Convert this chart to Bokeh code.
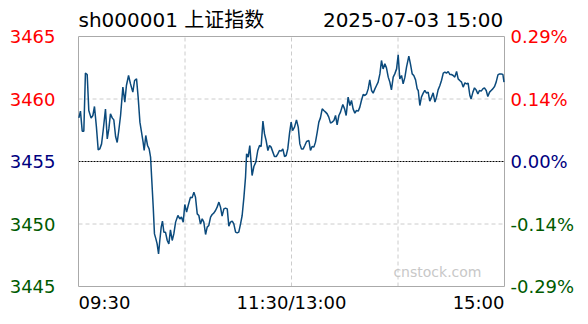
from bokeh.plotting import figure
from bokeh.models import Range1d
from bokeh.core.properties import value
from bokeh.embed import file_html
from bokeh.resources import INLINE

# ---- data ----
title_code = "sh000001 上证指数"
title_time = "2025-07-03  15:00"
prev_close = 3455
y_ticks = [3465, 3460, 3455, 3450, 3445]
pct_labels = ["0.29%", "0.14%", "0.00%", "-0.14%", "-0.29%"]
x_grid = [60, 120, 180]
y_grid = [3450, 3460]
x_tick_pos = [0, 120, 240]
x_tick_labels = ["09:30", "11:30/13:00", "15:00"]
watermark = "cnstock.com"

minutes = [
    0.2, 1.1, 2.1, 3.0, 3.9, 4.9, 5.8, 7.1, 8.1, 9.0, 10.1, 11.1, 12.0, 13.0, 13.9,
    15.2, 16.2, 17.1, 18.0, 19.0, 19.9, 20.9, 21.8, 22.7, 23.7, 25.0, 26.1, 27.0,
    28.2, 29.3, 30.6, 31.6, 32.7, 33.6, 34.6, 35.5, 36.4, 37.0, 37.9, 38.9, 39.8,
    40.6, 41.3, 42.1, 42.8, 43.6, 44.3, 45.1, 45.8, 46.6, 47.3, 48.1, 49.0, 50.0,
    50.9, 51.8, 52.8, 53.7, 54.7, 56.0, 57.1, 58.0, 59.0, 59.9, 60.9, 61.8, 63.1,
    64.0, 65.0, 65.9, 66.9, 67.8, 68.7, 69.7, 70.6, 71.6, 72.5, 73.4, 74.4, 75.3,
    76.2, 77.2, 78.1, 79.1, 80.0, 80.9, 81.9, 82.8, 83.8, 84.7, 85.6, 86.6, 87.5,
    88.5, 89.4, 90.3, 91.3, 92.2, 93.2, 94.1, 94.7, 95.6, 96.5, 97.8, 98.8, 99.9,
    101.0, 102.0, 102.9, 103.9, 104.8, 105.7, 106.7, 107.6, 108.5, 109.5, 110.4,
    111.4, 112.3, 113.2, 114.2, 115.1, 116.1, 117.0, 117.9, 118.9,
    119.8, 120.6, 121.7, 122.8, 123.8, 124.7, 125.6, 126.6, 127.5, 128.5, 129.8,
    130.7, 131.6, 132.6, 133.5, 134.5, 135.4, 136.3, 137.3, 138.2, 139.2, 140.1,
    141.0, 142.0, 142.9, 143.9, 144.8, 145.7, 146.7, 147.6, 148.9, 149.9, 150.8,
    151.9, 152.9, 153.8, 154.7, 155.7, 156.6, 157.6, 158.5, 159.4, 160.4, 161.3,
    162.3, 163.2, 164.1, 165.1, 166.0, 167.0, 167.9, 168.8, 169.8, 170.7, 171.6,
    172.6, 173.5, 174.5, 175.4, 176.3, 177.3, 178.2, 179.2, 180.1, 181.0, 182.0,
    182.9, 183.9, 184.8, 186.1, 187.0, 188.0, 188.9, 189.9, 190.8, 191.4, 192.3,
    193.2, 194.2, 195.1, 196.1, 197.0, 197.9, 198.9, 199.8, 200.8, 201.7, 202.6,
    203.6, 204.5, 205.5, 206.4, 207.3, 208.3, 209.2, 210.1, 211.1, 212.0, 213.0,
    213.9, 214.8, 215.8, 216.7, 217.7, 218.6, 219.5, 220.5, 221.2, 222.2, 223.1,
    224.0, 225.0, 225.9, 226.9, 227.8, 228.7, 229.7, 230.6, 231.6, 232.5, 233.4,
    234.4, 235.3, 236.3, 237.2, 238.1, 239.1, 239.7,
]
prices = [
    3458.49, 3459.03, 3457.43, 3457.43, 3462.07, 3461.96, 3459.08, 3458.47, 3458.68,
    3459.40, 3457.75, 3455.93, 3456.01, 3456.41, 3457.48, 3459.19, 3456.81, 3457.61,
    3458.81, 3458.49, 3458.33, 3457.00, 3456.52, 3457.48, 3458.68, 3460.95, 3459.75,
    3461.08, 3461.88, 3461.21, 3460.55, 3461.48, 3461.61, 3460.15, 3458.15, 3457.35,
    3456.55, 3455.88, 3457.08, 3456.28, 3456.01, 3455.35, 3453.48, 3451.35, 3449.21,
    3448.81, 3448.41, 3447.61, 3448.68, 3449.75, 3450.23, 3449.35, 3449.35, 3448.68,
    3448.41, 3449.53, 3448.68, 3449.21, 3450.15, 3450.68, 3450.41, 3450.55, 3450.15,
    3451.56, 3450.95, 3451.48, 3452.15, 3452.09, 3452.55, 3452.15, 3450.81, 3450.68,
    3450.01, 3450.41, 3450.15, 3449.16, 3449.75, 3449.88, 3450.55, 3450.76, 3450.87,
    3451.08, 3451.35, 3451.75, 3451.35, 3450.63, 3451.21, 3451.27, 3451.21, 3449.83,
    3450.15, 3450.23, 3450.01, 3449.35, 3449.29, 3449.35, 3450.01, 3450.68, 3452.15,
    3453.75, 3455.61, 3455.35, 3456.28, 3453.88, 3454.60, 3454.95, 3455.88, 3456.28,
    3456.20, 3458.23, 3457.21, 3456.68, 3455.88, 3456.28, 3456.15, 3455.75, 3455.40,
    3455.40, 3455.61, 3455.88, 3455.83, 3456.01, 3455.40, 3455.48, 3456.01, 3457.27,
    3458.15, 3457.48, 3457.75, 3458.33, 3457.75, 3456.41, 3456.01, 3456.01, 3456.28,
    3456.60, 3456.68, 3455.88, 3456.20, 3456.15, 3456.55, 3457.35, 3458.15, 3458.49,
    3459.21, 3459.08, 3458.95, 3458.81, 3458.55, 3458.07, 3458.15, 3458.28, 3458.68,
    3457.93, 3458.68, 3458.95, 3459.56, 3459.21, 3458.68, 3460.15, 3459.48, 3459.88,
    3459.21, 3458.87, 3459.08, 3459.03, 3459.35, 3459.88, 3460.36, 3460.28, 3460.41,
    3460.81, 3461.53, 3460.68, 3460.47, 3460.81, 3461.08, 3461.35, 3462.01, 3463.08,
    3462.41, 3462.81, 3462.49, 3461.75, 3461.35, 3460.73, 3461.75, 3462.01, 3462.41,
    3463.53, 3461.61, 3461.88, 3461.21, 3461.75, 3462.55, 3463.43, 3462.81, 3462.01,
    3461.88, 3461.53, 3460.81, 3460.68, 3459.48, 3460.15, 3460.47, 3460.68, 3460.47,
    3460.55, 3459.83, 3460.15, 3460.49, 3459.75, 3460.15, 3460.73, 3461.08, 3461.48,
    3462.07, 3462.15, 3462.07, 3462.20, 3461.96, 3461.96, 3461.88, 3461.75, 3462.20,
    3461.61, 3461.48, 3461.35, 3460.95, 3461.29, 3461.21, 3461.27, 3460.28, 3460.01,
    3460.55, 3460.89, 3460.73, 3460.41, 3460.68, 3460.63, 3460.81, 3460.89, 3460.68,
    3460.20, 3460.55, 3460.68, 3460.81, 3461.00, 3461.35, 3461.93, 3462.01, 3462.01,
    3461.96, 3461.35,
]

# ---- styling / layout ----
FONT = value("'DejaVu Sans', 'Noto Sans CJK SC', sans-serif")
POS = "#ff0000"
ZERO = "#000080"
NEG = "#005a00"
LINE = "#0b4a7c"
W, H = 588, 324
FL, FR, FT, FB = 78, 504, 36, 286          # inner chart box in pixels
XMIN, XMAX = 0, 240
YMIN, YMAX = min(y_ticks), max(y_ticks)
sx = (FR - FL) / (XMAX - XMIN)
sy = (FB - FT) / (YMAX - YMIN)

p = figure(width=W, height=H, output_backend="svg", toolbar_location=None,
           x_range=Range1d(XMIN - FL / sx, XMAX + (W - FR) / sx),
           y_range=Range1d(YMIN - (H - FB) / sy, YMAX + FT / sy),
           min_border=0)
p.axis.visible = False
p.grid.visible = False
p.outline_line_color = None
p.background_fill_color = "white"
p.border_fill_color = "white"

# grid
p.segment(x0=x_grid, y0=[YMIN] * len(x_grid), x1=x_grid, y1=[YMAX] * len(x_grid),
          line_color="#cccccc", line_dash="4 3", line_width=1)
p.segment(x0=[XMIN] * len(y_grid), y0=y_grid, x1=[XMAX] * len(y_grid), y1=y_grid,
          line_color="#cccccc", line_dash="4 3", line_width=1)
# previous close
p.segment(x0=[XMIN], y0=[prev_close], x1=[XMAX], y1=[prev_close],
          line_color="black", line_dash="2 1", line_width=1)
# frame
p.quad(left=[XMIN], right=[XMAX], bottom=[YMIN], top=[YMAX],
       fill_color=None, line_color="#aaaaaa", line_width=1)

p.line(minutes, prices, line_color=LINE, line_width=1.5)

colors = [POS, POS, ZERO, NEG, NEG]
p.text(x=[XMIN] * 5, y=y_ticks, text=[str(v) for v in y_ticks], x_offset=-23,
       text_align="right", text_baseline="middle", text_font=FONT,
       text_font_size="18px", text_color=colors)
p.text(x=[XMAX] * 5, y=y_ticks, text=pct_labels, x_offset=6,
       text_align="left", text_baseline="middle", text_font=FONT,
       text_font_size="18px", text_color=colors)

p.text(x=x_tick_pos, y=[YMIN] * 3, text=x_tick_labels, y_offset=16,
       text_align=["left", "center", "right"], text_baseline="middle",
       text_font=FONT, text_font_size="18px", text_color="black")

p.text(x=[XMIN], y=[YMAX], text=[title_code], y_offset=-17,
       text_align="left", text_baseline="middle", text_font=FONT,
       text_font_size="20px", text_color="black")
p.text(x=[XMAX], y=[YMAX], text=[title_time], x_offset=5, y_offset=-17,
       text_align="right", text_baseline="middle", text_font=FONT,
       text_font_size="20px", text_color="black")
p.text(x=[XMAX], y=[YMIN], text=[watermark], x_offset=-23, y_offset=-15,
       text_align="right", text_baseline="middle", text_font=FONT,
       text_font_size="14px", text_color="#c8c8c8")

open("out.html", "w").write(file_html(p, INLINE))
